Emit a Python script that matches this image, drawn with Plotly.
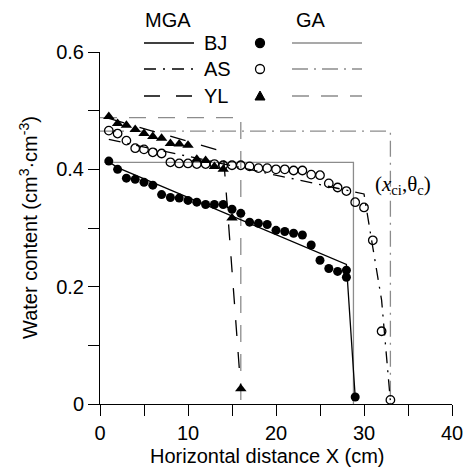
import plotly.graph_objects as go

# measured data (Water content vs horizontal distance)
bj_x = [1, 2, 3, 4, 5, 6, 7, 8, 9, 10, 11, 12, 13, 14, 15, 16, 17, 18, 19, 20,
        21, 22, 23, 24, 25, 26, 27, 28, 28, 29]
bj_y = [0.414, 0.400, 0.385, 0.383, 0.378, 0.373, 0.357, 0.352, 0.351, 0.347,
        0.344, 0.340, 0.340, 0.340, 0.332, 0.325, 0.310, 0.308, 0.306, 0.296,
        0.294, 0.291, 0.288, 0.271, 0.245, 0.231, 0.226, 0.228, 0.216, 0.012]

as_x = list(range(1, 34))
as_y = [0.466, 0.461, 0.449, 0.436, 0.434, 0.429, 0.427, 0.412, 0.410, 0.410,
        0.409, 0.409, 0.409, 0.407, 0.407, 0.407, 0.405, 0.402, 0.402, 0.400,
        0.400, 0.398, 0.398, 0.391, 0.390, 0.376, 0.369, 0.363, 0.344, 0.335,
        0.279, 0.124, 0.007]

yl_x = list(range(1, 17))
yl_y = [0.490, 0.478, 0.475, 0.468, 0.461, 0.456, 0.453, 0.444, 0.443, 0.441,
        0.417, 0.415, 0.405, 0.400, 0.317, 0.026]

# MGA model curves
bj_mga_x = [1, 2, 28, 29]
bj_mga_y = [0.413, 0.403, 0.238, 0.012]
as_mga_x = [1, 30, 31, 32, 33]
as_mga_y = [0.451, 0.358, 0.267, 0.177, 0.005]
yl_mga_x = [1, 14, 16]
yl_mga_y = [0.487, 0.430, 0.026]

# GA model curves
bj_ga_x = [0.5, 28.8, 28.8]
bj_ga_y = [0.412, 0.412, 0]
as_ga_x = [0, 33, 33]
as_ga_y = [0.465, 0.465, 0]
yl_ga_x = [0, 16, 16]
yl_ga_y = [0.488, 0.488, 0]

BLACK = "black"
GRAY = "#8c8c8c"
DASHDOT = "12px,7px,2px,7px"
LONGDASH = "16px,16px"
GA_DASHDOT = "16px,6px,2px,6px"
GA_LONGDASH = "17px,12px"
FONT = "Liberation Sans, Arial, sans-serif"

fig = go.Figure()

# GA lines (gray, underneath)
for x, y, dash in [(bj_ga_x, bj_ga_y, "solid"), (as_ga_x, as_ga_y, GA_DASHDOT),
                   (yl_ga_x, yl_ga_y, GA_LONGDASH)]:
    fig.add_trace(go.Scatter(x=x, y=y, mode="lines",
                             line=dict(color=GRAY, width=1.3, dash=dash)))

# MGA lines
for x, y, dash in [(bj_mga_x, bj_mga_y, "solid"), (as_mga_x, as_mga_y, DASHDOT),
                   (yl_mga_x, yl_mga_y, LONGDASH)]:
    fig.add_trace(go.Scatter(x=x, y=y, mode="lines",
                             line=dict(color=BLACK, width=1.3, dash=dash)))

# observations
fig.add_trace(go.Scatter(x=bj_x, y=bj_y, mode="markers",
                         marker=dict(symbol="circle", size=9, color=BLACK)))
fig.add_trace(go.Scatter(x=as_x, y=as_y, mode="markers",
                         marker=dict(symbol="circle-open", size=8.5, color=BLACK,
                                     line=dict(width=1.3))))
fig.add_trace(go.Scatter(x=yl_x, y=yl_y, mode="markers",
                         marker=dict(symbol="triangle-up", size=10, color=BLACK)))

# legend drawn by hand (pixel -> paper helpers)
L, T, W, H = 100, 52, 352, 352


def px(xp):
    return (xp - L) / W


def py(yp):
    return (T + H - yp) / H


def label(x, y, text, **kw):
    d = dict(x=x, y=y, text=text, showarrow=False, xref="paper", yref="paper",
             xanchor="center", yanchor="middle", font=dict(size=20))
    d.update(kw)
    return d


shapes = []
annotations = [label(px(168), py(20), "MGA"), label(px(311), py(20), "GA")]
rows = [("BJ", 43, "solid", "solid", "filled"),
        ("AS", 69, DASHDOT, GA_DASHDOT, "open"),
        ("YL", 96, LONGDASH, GA_LONGDASH, "triangle")]
for name, yrow, d1, d2, mk in rows:
    shapes.append(dict(type="line", xref="paper", yref="paper",
                       x0=px(144), x1=px(194), y0=py(yrow), y1=py(yrow),
                       line=dict(color=BLACK, width=1.3, dash=d1)))
    shapes.append(dict(type="line", xref="paper", yref="paper",
                       x0=px(292), x1=px(362), y0=py(yrow), y1=py(yrow),
                       line=dict(color=GRAY, width=1.3, dash=d2)))
    annotations.append(label(px(202), py(yrow), name, xanchor="left"))
    if mk == "triangle":
        shapes.append(dict(type="path", xref="paper", yref="paper",
                           xsizemode="pixel", ysizemode="pixel",
                           xanchor=px(260), yanchor=py(yrow),
                           path="M -5,-4 L 5,-4 L 0,5 Z",
                           fillcolor=BLACK, line=dict(color=BLACK, width=1)))
    else:
        shapes.append(dict(type="circle", xref="paper", yref="paper",
                           xsizemode="pixel", ysizemode="pixel",
                           xanchor=px(260), yanchor=py(yrow),
                           x0=-4.5, x1=4.5, y0=-4.5, y1=4.5,
                           fillcolor=BLACK if mk == "filled" else "white",
                           line=dict(color=BLACK, width=1.3)))

# axis titles and callout
annotations.append(label(px(28), py(228),
                         "Water content (cm<sup>3</sup>·cm<sup>-3</sup>)",
                         textangle=-90))
annotations.append(label(px(267), py(456), "Horizontal distance X (cm)"))
annotations.append(label(px(373), py(185),
                         "(<i>x</i><sub>ci</sub>,θ<sub>c</sub>)", xanchor="left",
                         font=dict(size=21, family="Liberation Serif, Times New Roman, serif")))

fig.update_layout(
    template="none",
    width=466, height=467, autosize=False,
    margin=dict(l=L, r=466 - L - W, t=T, b=467 - T - H, pad=0),
    plot_bgcolor="white", paper_bgcolor="white",
    showlegend=False,
    font=dict(family=FONT, size=20, color="black"),
    shapes=shapes, annotations=annotations,
)
fig.update_xaxes(range=[0, 40], dtick=10, showline=True, linecolor=BLACK,
                 linewidth=1, ticks="outside", ticklen=11, tickcolor=BLACK,
                 showgrid=False, zeroline=False, automargin=False,
                 minor=dict(dtick=5, ticks="outside", ticklen=11, tickcolor=BLACK))
fig.update_yaxes(range=[0, 0.6], dtick=0.2, showline=True, linecolor=BLACK,
                 linewidth=1, ticks="outside", ticklen=11, tickcolor=BLACK,
                 showgrid=False, zeroline=False, automargin=False,
                 minor=dict(dtick=0.1, ticks="outside", ticklen=11, tickcolor=BLACK))

# remove default page margin so the figure sits at the window's top-left
fig.write_html("out.html",
               config={"responsive": False, "displayModeBar": False},
               post_script="document.body.style.margin='0';"
                           "document.body.style.overflow='hidden';")
